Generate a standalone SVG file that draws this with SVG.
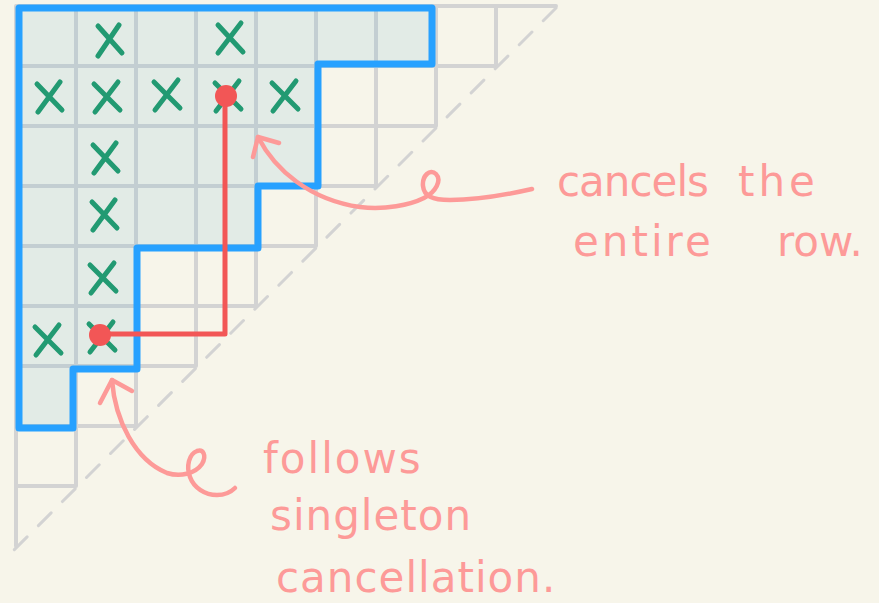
<svg xmlns="http://www.w3.org/2000/svg" width="879" height="603" viewBox="0 0 879 603">
  <style>
    .grid{stroke:#d3d3d3;stroke-width:4;stroke-linecap:round;fill:none}
    .diag{stroke:#d3d3d3;stroke-width:3;stroke-linecap:round;stroke-dasharray:18 16;fill:none}
    .region{fill:#6bb2cf;fill-opacity:0.15;stroke:none}
    .outline{fill:none;stroke:#27a1ff;stroke-width:7;stroke-linejoin:round;stroke-linecap:round}
    .mark{stroke:#229a72;stroke-width:5;stroke-linecap:round;fill:none}
    .path{stroke:#f25656;stroke-width:5;fill:none;stroke-linejoin:round}
    .dot{fill:#f25656}
    .ink{stroke:#fd9a98;stroke-width:4.5;fill:none;stroke-linecap:round;stroke-linejoin:round}
    .note{fill:#fd9a98;font-family:"DejaVu Sans","Liberation Sans",sans-serif;font-size:42px}
  </style>

  <rect width="879" height="603" fill="#f7f5ea"/>

  <!-- staircase grid -->
  <g id="grid">
    <path class="grid" d="M16,6H556 M16,66H496 M16,126H436 M16,186H376 M16,246H316 M16,306H256 M16,366H196 M16,426H136 M16,486H76
                          M16,6V546 M76,6V486 M136,6V426 M196,6V366 M256,6V306 M316,6V246 M376,6V186 M436,6V126 M496,6V66"/>
    <path class="diag" d="M556,8L14,550"/>
  </g>

  <!-- highlighted region -->
  <g id="region">
    <path class="region" d="M19,8H432V64H318V186H258V248H137V369H73V428H19Z"/>
    <path class="outline" d="M19,8H432V64H318V186H258V248H137V369H73V428H19Z"/>
  </g>

  <!-- crossed cells -->
  <g id="marks" class="mark">
    <path d="M98,26L122,53M98,56L119,25"/>
    <path d="M218,25L243,52M218,53L241,23"/>
    <path d="M37,84L62,110M38,112L60,82"/>
    <path d="M94,84L120,110M95,112L118,82"/>
    <path d="M154,82L180,108M155,110L178,80"/>
    <path d="M215,83L241,109M216,111L239,81"/>
    <path d="M272,83L298,109M273,111L296,81"/>
    <path d="M93,145L118,171M94,173L116,143"/>
    <path d="M92,202L117,228M93,230L115,200"/>
    <path d="M90,265L116,291M91,293L114,263"/>
    <path d="M35,327L61,353M36,355L59,325"/>
    <path d="M89,324L115,350M90,352L113,322"/>
  </g>

  <!-- cancellation path and annotation arrows -->
  <g id="connectors">
    <path class="path" d="M225,96V334H100"/>
    <circle class="dot" cx="226" cy="96" r="11"/>
    <circle class="dot" cx="100" cy="335" r="11"/>

    <path class="ink" d="M258,137C275,170 310,200 360,207C385,210 410,205 424,198C436,192 442,180 436,174C430,168 422,176 423,186C424,196 432,200 450,200C480,200 510,194 532,189"/>
    <path class="ink" d="M253,157L258,137L279,143"/>
    <path class="ink" d="M112,380C115,420 135,460 167,473C180,477 195,474 202,464C207,455 203,449 197,451C189,454 186,466 190,477C194,488 205,495 217,495C225,495 231,492 235,488"/>
    <path class="ink" d="M100,403L112,380L132,391"/>
  </g>

  <!-- annotation text -->
  <g id="notes" class="note">
    <text y="196"><tspan x="557" letter-spacing="-1">cancels</tspan> <tspan x="738" letter-spacing="4">the</tspan></text>
    <text y="256"><tspan x="573" letter-spacing="3">entire</tspan> <tspan x="777">row.</tspan></text>
    <text x="263" y="473" letter-spacing="2">follows</text>
    <text x="270" y="530" letter-spacing="1">singleton</text>
    <text x="276" y="592" letter-spacing="1">cancellation.</text>
  </g>
</svg>
